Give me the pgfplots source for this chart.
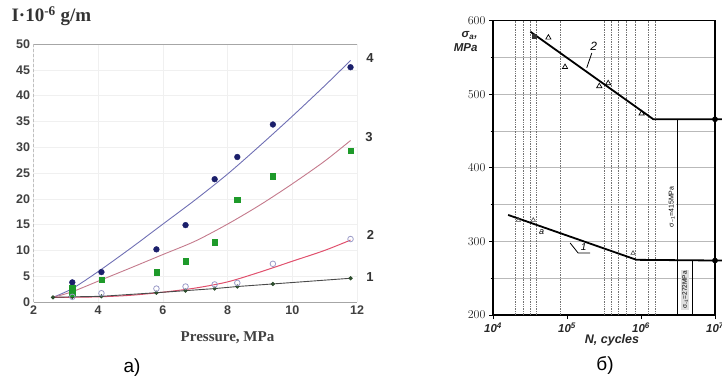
\documentclass[border=0pt]{standalone}
\usepackage{fontspec}
\setmainfont{Liberation Serif}
\setsansfont{Liberation Sans}
\usepackage{pgfplots}
\pgfplotsset{compat=1.18}

\definecolor{navy4}{HTML}{1B1F6B}
\definecolor{line4}{HTML}{7070B4}
\definecolor{green3}{HTML}{1E9A2A}
\definecolor{line3}{HTML}{C47A8C}
\definecolor{line2}{HTML}{E04F6C}
\definecolor{mark2}{HTML}{9C9CC8}
\definecolor{line1}{HTML}{4A4A4A}
\definecolor{mark1}{HTML}{2E4E2E}

\begin{document}
\begin{tikzpicture}[x=1pt,y=1pt]
% ---------------- panel a) ----------------
\begin{axis}[
 at={(33.5pt,76pt)}, anchor=south west, scale only axis,
 width=323.5pt, height=258pt,
 xmin=2,xmax=12,ymin=0,ymax=50,
 xtick={2,4,...,12}, ytick={0,5,...,50},
 separate axis lines,
 x axis line style={draw=gray!70, line width=0.8pt},
 y axis line style={draw=none},
 major tick length=0pt,
 grid=major, major grid style={gray!12, line width=0.5pt},
 tick label style={font=\sffamily\bfseries\fontsize{12.5}{13}\selectfont, text=black!75},
 /pgf/number format/assume math mode=true,
 clip=false,
]
\draw[gray!50, densely dashed] (rel axis cs:0,0) -- (rel axis cs:0,1);
% fitted curves
\addplot[line4, line width=0.9pt, smooth, no marks] coordinates {
 (2.6,0.9) (3.2,2.6) (4,5.9) (5,10.4) (6,15.1) (7,19.8) (8,24.8) (9,30.3) (10,36) (11,41.9) (11.8,46.8)};
\addplot[line3, line width=0.9pt, smooth, no marks] coordinates {
 (2.6,0.9) (3.2,2.0) (4.1,4.3) (5,6.6) (6,9.2) (7,11.8) (8,15.1) (9,18.8) (10,22.9) (11,27.3) (11.8,31.3)};
\addplot[line2, line width=1pt, smooth, no marks] coordinates {
 (2.6,0.9) (3,0.9) (4,1.0) (5,1.3) (6,1.9) (7,2.7) (8,3.9) (9,5.8) (10,7.9) (11,10.0) (11.8,12.0)};
\addplot[line1, line width=0.9pt, mark=*, mark size=1.6pt, mark options={fill=mark1, draw=mark1}] coordinates {
 (2.6,0.9) (3.2,1.0) (4.1,1.1) (5.8,1.8) (6.7,2.2) (7.6,2.6) (8.3,3.0) (9.4,3.5) (11.8,4.6)};
% data points
\addplot[only marks, mark=*, mark size=2.9pt, navy4] coordinates {
 (3.2,3.8) (4.1,5.8) (5.8,10.2) (6.7,14.9) (7.6,23.8) (8.3,28.1) (9.4,34.4) (11.8,45.5)};
\addplot[only marks, mark=square*, mark size=2.7pt, green3] coordinates {
 (3.2,1.6) (3.2,2.7) (4.1,4.3) (5.8,5.8) (6.7,7.9) (7.6,11.6) (8.3,19.8) (9.4,24.4) (11.8,29.3)};
\addplot[only marks, mark=o, mark size=2.8pt, mark options={draw=mark2, fill=white, line width=0.8pt}] coordinates {
 (3.2,1.0) (4.1,1.7) (5.8,2.6) (6.7,3.0) (7.6,3.4) (8.3,3.7) (9.4,7.4) (11.8,12.2)};
\end{axis}

\node[anchor=west, font=\bfseries\fontsize{19}{20}\selectfont, text=black!80] at (8pt,362pt) {I·10\textsuperscript{-6} g/m};
\node[font=\bfseries\fontsize{15}{16}\selectfont, text=black!75] at (227.5pt,40.5pt) {Pressure, MPa};
\node[font=\sffamily\bfseries\fontsize{13}{14}\selectfont, text=black!80] at (370pt,320pt) {4};
\node[font=\sffamily\bfseries\fontsize{13}{14}\selectfont, text=black!80] at (369pt,241pt) {3};
\node[font=\sffamily\bfseries\fontsize{13}{14}\selectfont, text=black!80] at (370.5pt,143pt) {2};
\node[font=\sffamily\bfseries\fontsize{13}{14}\selectfont, text=black!80] at (370pt,101pt) {1};
\node[font=\sffamily\fontsize{19}{20}\selectfont] at (132pt,10pt) {а)};

% ---------------- panel б) ----------------
\begin{axis}[
 at={(493pt,63pt)}, anchor=south west, scale only axis,
 width=222pt, height=294.3pt,
 xmode=log, xmin=1e4, xmax=1e7, ymin=200, ymax=600,
 xtick={1e4,1e5,1e6,1e7},
 xticklabels={{10\textsuperscript{4}},{10\textsuperscript{5}},{10\textsuperscript{6}},{10\textsuperscript{7}}},
 xminorticks=false,
 ytick={200,300,...,600}, minor ytick={250,350,450,550},
 ymajorgrids, yminorgrids,
 major grid style={gray!55, line width=0.7pt},
 minor grid style={gray!55, line width=0.7pt},
 axis line style={black, line width=1.3pt},
 tick style={black, line width=0.8pt},
 major tick length=4pt, minor tick length=2.5pt,
 tick align=outside, xtick pos=bottom, ytick pos=left,
 extra x ticks={2e4,2.6e4,3.2e4,3.9e4,8e4,3.2e5,4e5,5e5,6.4e5,8.3e5,1.25e6,1.55e6},
 extra x tick labels={},
 extra x tick style={xmajorgrids=true, major grid style={densely dotted, black!55, line width=0.5pt}, major tick length=0pt},
 tick label style={font=\sffamily\bfseries\itshape\fontsize{11.5}{12}\selectfont, text=black!85},
 clip=false,
]
\addplot[black, line width=1.8pt] coordinates {(3.2e4,585) (1.47e6,466) (1.245e7,466)};
\addplot[black, line width=1.2pt] coordinates {(3.13e6,466) (3.13e6,200)};
\addplot[black, line width=1.8pt] coordinates {(1.6e4,336) (8.7e5,275) (1.245e7,274)};
\addplot[black, line width=1.2pt] coordinates {(5e6,274) (5e6,200)};
\addplot[only marks, mark=*, mark size=2.6pt, black] coordinates {(1e7,466) (1e7,274)};
\addplot[only marks, mark=triangle, mark size=3pt, mark options={black, line width=0.7pt}] coordinates {
 (5.6e4,577) (9.4e4,537) (2.73e5,511) (3.6e5,515) (1.02e6,474)};
\addplot[only marks, mark=square*, mark size=2pt, black!80] coordinates {(3.6e4,579)};
\addplot[only marks, mark=triangle, mark size=2.5pt, mark options={black!70, line width=0.6pt}] coordinates {
 (2.2e4,329) (3.5e4,329) (7.8e5,284)};
% labels of the curves
\draw[black, line width=0.8pt] (axis cs:1.85e5,536) -- (axis cs:2.16e5,556);
\node[font=\sffamily\itshape\fontsize{12}{12}\selectfont] at (axis cs:2.3e5,565) {2};
\draw[black, line width=0.8pt] (axis cs:1.1e5,298) -- (axis cs:1.41e5,284.4) -- (axis cs:2.05e5,284.4);
\node[font=\sffamily\itshape\fontsize{10}{10}\selectfont] at (axis cs:1.68e5,292) {1};
\node[font=\sffamily\itshape\fontsize{9}{9}\selectfont] at (axis cs:4.55e4,313) {a};
% endurance limits
\node[rotate=90, font=\sffamily\fontsize{7}{7}\selectfont, fill=white, inner sep=1pt] at (axis cs:2.6e6,347) {σ\textsubscript{−1}=415MPa};
\node[rotate=90, font=\sffamily\fontsize{6.5}{7}\selectfont, fill=gray!25, inner sep=1pt] at (axis cs:3.95e6,234) {σ\textsubscript{−1}=272MPa};
\end{axis}

\node[anchor=east, align=right, font=\sffamily\bfseries\itshape\fontsize{11.5}{14}\selectfont, text=black!85] at (481pt,336pt) {σ\textsubscript{a},\\MPa};
\node[font=\sffamily\bfseries\itshape\fontsize{12.5}{13}\selectfont, text=black!85] at (612pt,38pt) {N, cycles};
\node[font=\sffamily\fontsize{19}{20}\selectfont] at (605pt,13pt) {б)};

\pgfresetboundingbox
\useasboundingbox (0,0) rectangle (722pt,378pt);
\end{tikzpicture}
\end{document}
